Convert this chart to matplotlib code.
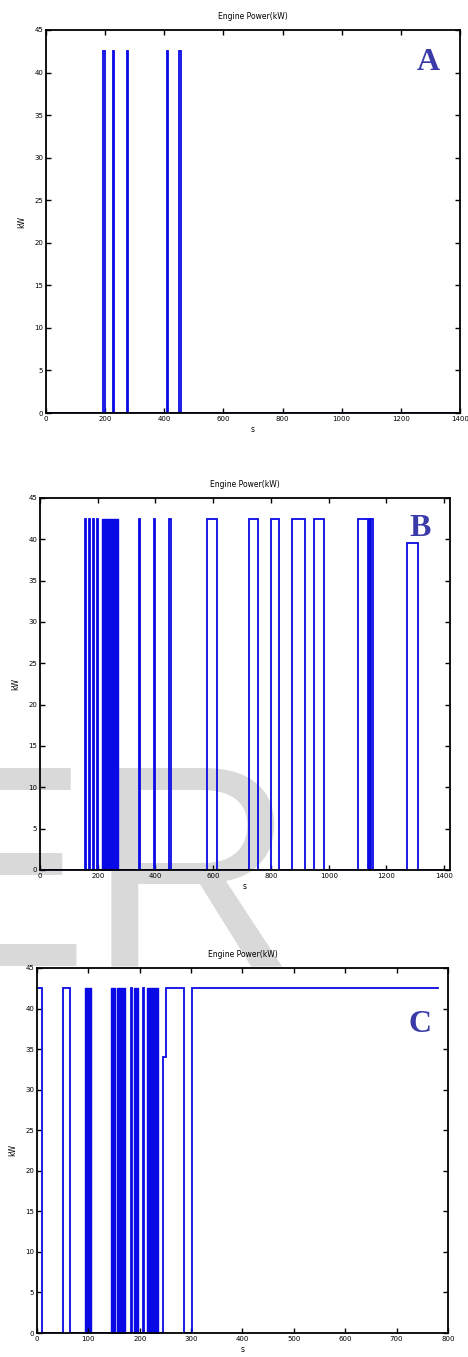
import matplotlib
matplotlib.use('Agg')
import matplotlib.pyplot as plt

# ---------------- data ----------------
title = "Engine Power(kW)"

# Panel A: change times (s) and power after each change (kW)
A_times = [0, 193, 199, 226, 229, 273, 276, 410, 413, 451, 458, 1400]
A_power = [0, 42.5, 0, 42.5, 0, 42.5, 0, 42.5, 0, 42.5, 0, 0]
A_dense = []          # (start, end, level) of rapid on/off cycling
A_xticks = [0, 200, 400, 600, 800, 1000, 1200, 1400]

# Panel B
B_times = [0, 155, 158, 170, 173, 184, 187, 198, 201, 344, 348, 396, 400,
           447, 453, 578, 612, 725, 754, 800, 828, 872, 918, 948, 985,
           1100, 1135, 1140, 1143, 1148, 1152, 1272, 1308, 1400]
B_power = [0, 42.5, 0, 42.5, 0, 42.5, 0, 42.5, 0, 42.5, 0, 42.5, 0,
           42.5, 0, 42.5, 0, 42.5, 0, 42.5, 0, 42.5, 0, 42.5, 0,
           42.5, 0, 42.5, 0, 42.5, 0, 39.5, 0, 0]
B_dense = [(216, 270, 42.5)]
B_xticks = [0, 200, 400, 600, 800, 1000, 1200, 1400]

# Panel C
C_times = [0, 9, 51, 64, 182, 184, 206, 208, 246, 251, 286, 301, 780]
C_power = [42.5, 0, 42.5, 0, 42.5, 0, 42.5, 0, 34, 42.5, 0, 42.5, 42.5]
C_dense = [(93, 106, 42.5), (144, 151, 42.5), (156, 171, 42.5),
           (189, 197, 42.5), (214, 236, 42.5)]
C_xticks = [0, 100, 200, 300, 400, 500, 600, 700, 800]

yticks = [0, 5, 10, 15, 20, 25, 30, 35, 40, 45]
panel_labels = ["A", "B", "C"]

# ---------------- layout ----------------
W, H = 468, 1357
fig = plt.figure(figsize=(W / 100, H / 100), dpi=100)
fig.patch.set_facecolor('white')

LINE = '#0a0ae6'


def box(l, r, t, b):
    return [l / W, 1 - b / H, (r - l) / W, (b - t) / H]


panels = [
    dict(pos=box(46, 460, 30, 413), times=A_times, power=A_power, dense=A_dense,
         xticks=A_xticks, xlim=(0, 1400), lab=(428, 62), face='white'),
    dict(pos=box(40, 450, 498, 870), times=B_times, power=B_power, dense=B_dense,
         xticks=B_xticks, xlim=(0, 1420), lab=(420, 528), face='none'),
    dict(pos=box(37, 448, 968, 1333), times=C_times, power=C_power, dense=C_dense,
         xticks=C_xticks, xlim=(0, 800), lab=(420, 1025), face='white'),
]

# light grey watermark behind panel B, hidden by panel C
fig.text(-104 / W, 1 - 966 / H, "ER", fontsize=207, family='Liberation Sans',
         color='#d9d9d9', ha='left', va='baseline', zorder=0.5)

for i, p in enumerate(panels):
    ax = fig.add_axes(p['pos'], zorder=1)
    ax.set_facecolor(p['face'])
    ax.step(p['times'], p['power'], where='post', color=LINE, lw=1.3,
            solid_joinstyle='miter')
    for (s, e, lev) in p['dense']:
        ax.fill_between([s, e], 0, lev, color=LINE, lw=1.0, edgecolor=LINE)
    ax.set_xlim(*p['xlim'])
    ax.set_ylim(0, 45)
    ax.set_xticks(p['xticks'])
    ax.set_yticks(yticks)
    ax.tick_params(direction='in', top=True, right=True, length=3.5, width=1.0,
                   labelsize=5, pad=2, colors='black')
    for s in ax.spines.values():
        s.set_linewidth(1.3)
        s.set_color('black')
    ax.set_title(title, fontsize=5.5, pad=8)
    ax.set_xlabel("s", fontsize=5.5, labelpad=2)
    ax.set_ylabel("kW", fontsize=5.5, labelpad=6)
    lx, ly = p['lab']
    fig.text(lx / W, 1 - ly / H, panel_labels[i], fontsize=23,
             family='Liberation Serif', weight='bold', color='#3a3aa8',
             ha='center', va='center', zorder=5)

fig.savefig('out.png', dpi=100)
